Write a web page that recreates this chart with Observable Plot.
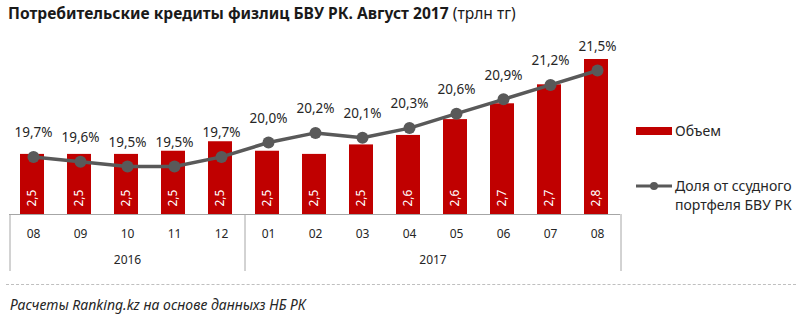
<!DOCTYPE html>
<html>
<head>
<meta charset="utf-8">
<script src="https://cdn.jsdelivr.net/npm/d3@7"></script>
<script src="https://cdn.jsdelivr.net/npm/@observablehq/plot@0.6"></script>
<style>
  html, body { margin: 0; padding: 0; background: #fff; }
  #root { position: relative; width: 800px; height: 322px; overflow: hidden; font-family: "Noto Sans", sans-serif; }
  .layer { position: absolute; left: 0; }
  #title { position: absolute; left: 8px; top: 2px; font-size: 15.6px; font-weight: bold; color: #1a1a1a; white-space: nowrap; }
  #title span { font-weight: normal; }
  .leg { position: absolute; font-size: 14px; color: #262626; line-height: 19px; }
  #dash { position: absolute; left: 6px; top: 284px; width: 790px; border-top: 1px dashed #bfbfbf; }
  #caption { position: absolute; left: 10px; top: 295px; font-size: 14px; font-style: italic; color: #262626; }
</style>
</head>
<body>
<div id="root">
  <div id="title">Потребительские кредиты физлиц БВУ РК. Август 2017 <span>(трлн тг)</span></div>
  <div id="plots"></div>
  <svg class="layer" style="left:636px; top:124px" width="40" height="70">
    <rect x="0" y="3" width="36" height="8" fill="#C00000"></rect>
    <line x1="0" y1="62" x2="36" y2="62" stroke="#595959" stroke-width="3"></line>
    <circle cx="18" cy="62" r="4" fill="#595959"></circle>
  </svg>
  <div class="leg" style="left:675px; top:121px">Объем</div>
  <div class="leg" style="left:675px; top:176px">Доля от ссудного<br>портфеля БВУ РК</div>
  <div id="dash"></div>
  <div id="caption">Расчеты Ranking.kz на основе данныхз НБ РК</div>
</div>
<script>
const months = ["08","09","10","11","12","01","02","03","04","05","06","07","08"];
const years  = ["2016","2016","2016","2016","2016","2017","2017","2017","2017","2017","2017","2017","2017"];
const volume = [2.50, 2.50, 2.50, 2.51, 2.54, 2.51, 2.50, 2.53, 2.56, 2.61, 2.66, 2.72, 2.80];
const share  = [19.7, 19.6, 19.5, 19.5, 19.7, 20.0, 20.2, 20.1, 20.3, 20.6, 20.9, 21.2, 21.5];
const yearLabels = ["2016", "2017"];

const data = months.map((m, i) => ({key: years[i] + "-" + m, month: m, year: years[i], volume: volume[i], share: share[i]}));
const keys = data.map(d => d.key);
const comma = (f) => (v) => f(v).replace(".", ",");
const fmtVol = comma(d3.format(".1f"));
const fmtPct = (v) => comma(d3.format(".1f"))(v) + "%";

const W = 630, L = 9, R = 10;
const step = (W - L - R) / keys.length;
const xOpts = {domain: keys, paddingInner: 0.48, paddingOuter: 0.24, axis: null};
const yMin = 2.31;
const font = "'Noto Sans', sans-serif";

const bars = Plot.plot({
  width: W, height: 280, marginLeft: L, marginRight: R, marginTop: 0, marginBottom: 0,
  style: {fontFamily: font, background: "transparent"},
  x: xOpts,
  y: {domain: [yMin, 2.80], range: [214, 59], axis: null},
  marks: [
    Plot.barY(data, {x: "key", y1: yMin, y2: "volume", fill: "#C00000"}),
    Plot.ruleY([yMin], {stroke: "#a6a6a6", strokeWidth: 1}),
    Plot.text(data, {x: "key", y: yMin, text: d => fmtVol(d.volume), rotate: -90, textAnchor: "start", dy: -8, fill: "white", fontSize: 12})
  ]
});

const line = Plot.plot({
  width: W, height: 280, marginLeft: L, marginRight: R, marginTop: 0, marginBottom: 0,
  style: {fontFamily: font, background: "transparent"},
  x: xOpts,
  y: {domain: [19.5, 21.5], range: [166, 70], axis: null},
  marks: [
    Plot.line(data, {x: "key", y: "share", stroke: "#595959", strokeWidth: 3.5}),
    Plot.dot(data, {x: "key", y: "share", r: 6, fill: "#595959", stroke: "none"}),
    Plot.text(data, {x: "key", y: "share", text: d => fmtPct(d.share), dy: -24, fill: "#262626", fontSize: 13.5})
  ]
});

const axis = Plot.plot({
  width: W, height: 57, marginLeft: L, marginRight: R, marginTop: 0, marginBottom: 0,
  style: {fontFamily: font, background: "transparent"},
  x: xOpts,
  marks: [
    Plot.ruleX([keys[0], keys[5]], {x: d => d, dx: -step / 2, stroke: "#a6a6a6"}),
    Plot.ruleX([keys[12]], {x: d => d, dx: step / 2, stroke: "#a6a6a6"}),
    Plot.text(data, {x: "key", text: "month", dy: -9, fill: "#262626", fontSize: 12}),
    Plot.text([{key: keys[2], label: yearLabels[0]}], {x: "key", text: "label", dy: 17, fill: "#262626", fontSize: 12}),
    Plot.text([{key: keys[8], label: yearLabels[1]}], {x: "key", text: "label", dx: step / 2, dy: 17, fill: "#262626", fontSize: 12})
  ]
});

const plots = document.getElementById("plots");
[bars, line].forEach(p => { p.classList.add("layer"); p.style.top = "0px"; plots.appendChild(p); });
axis.classList.add("layer"); axis.style.top = "214px"; plots.appendChild(axis);
</script>
</body>
</html>
